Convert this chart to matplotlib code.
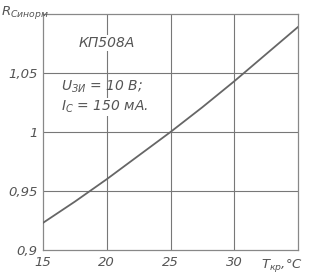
import matplotlib
matplotlib.use("Agg")
import matplotlib.pyplot as plt
import numpy as np

temps = [15, 17.5, 20, 22.5, 25, 27.5, 30, 32.5, 35]
r_norm = [0.923, 0.941, 0.960, 0.980, 1.000, 1.021, 1.043, 1.066, 1.089]

xticks = [15, 20, 25, 30]
xtick_labels = ["15", "20", "25", "30"]
yticks = [0.9, 0.95, 1.0, 1.05]
ytick_labels = ["0,9", "0,95", "1", "1,05"]

gray = "#555555"
plt.rcParams['font.family'] = ['DejaVu Sans']

fig = plt.figure(figsize=(3.11, 2.74), dpi=100)
fig.patch.set_facecolor("white")
ax = fig.add_axes([43/311, 1-250/274, (298-43)/311, (250-14)/274])
ax.set_xlim(15, 35)
ax.set_ylim(0.9, 1.1)

for x in [20, 25, 30]:
    ax.axvline(x, color="#777777", lw=0.8, zorder=1)
for y in [0.95, 1.0, 1.05]:
    ax.axhline(y, color="#777777", lw=0.8, zorder=1)

ax.plot(temps, r_norm, color="#666666", lw=1.3, zorder=3)

for s in ax.spines.values():
    s.set_color("#888888")
    s.set_linewidth(0.9)

ax.set_xticks(xticks)
ax.set_xticklabels(xtick_labels)
ax.set_yticks(yticks)
ax.set_yticklabels(ytick_labels)
ax.tick_params(length=0, colors=gray, labelsize=9.5, pad=4)
for lab in ax.get_xticklabels() + ax.get_yticklabels():
    lab.set_fontstyle("italic")

ax.text(1.02, -0.03, r"$T_{кр}$,°C", transform=ax.transAxes, ha="right", va="top",
        color=gray, fontsize=9.5, fontstyle="italic")
fig.text(1/311, 1-13/274, r"$R_{Синорм}$", ha="left", va="center", color=gray,
         fontsize=9.5, fontstyle="italic")

ax.text(20, 1.0755, "КП508А", ha="center", va="center", color=gray, fontsize=10,
        fontstyle="italic", zorder=4,
        bbox=dict(facecolor="white", edgecolor="none", pad=1))
ax.text(16.4, 1.038, r"$U_{ЗИ}$ = 10 В;", ha="left", va="center", color=gray,
        fontsize=10, fontstyle="italic", zorder=4)
ax.text(16.4, 1.021, r"$I_{C}$ = 150 мА.", ha="left", va="center", color=gray,
        fontsize=10, fontstyle="italic", zorder=4,
        bbox=dict(facecolor="white", edgecolor="none", pad=0.5))

fig.savefig("out.png", dpi=100, facecolor="white")
